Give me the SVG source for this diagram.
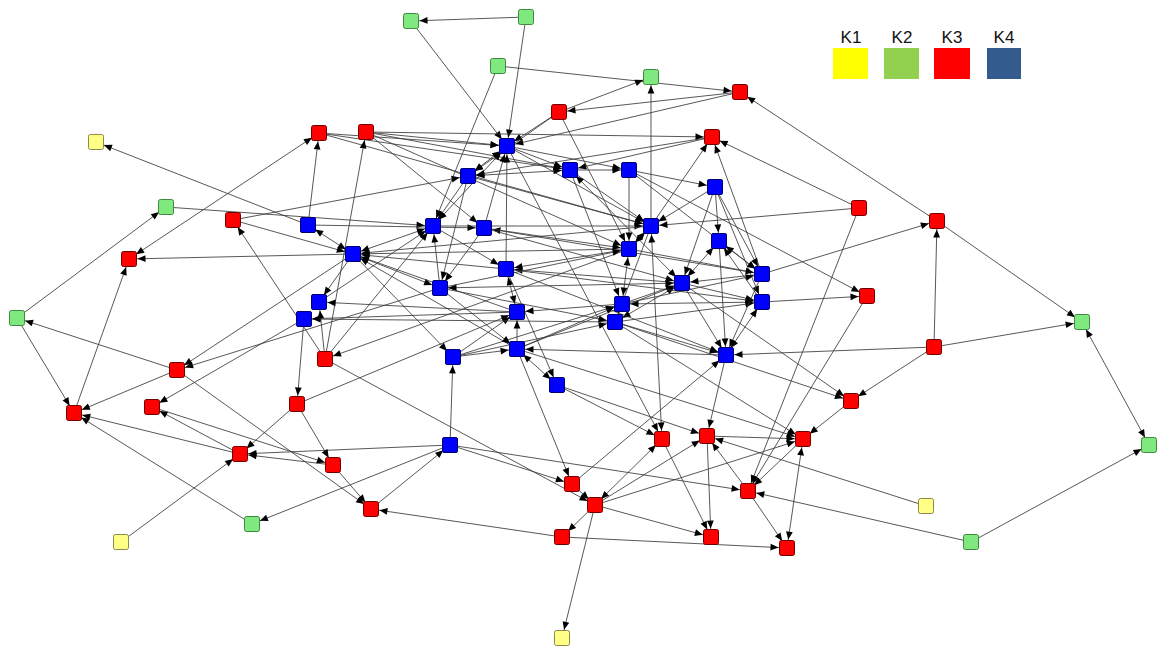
<svg xmlns="http://www.w3.org/2000/svg" width="1170" height="658" viewBox="0 0 1170 658">
<style>
.e{stroke:#3a3a3a;stroke-width:0.85;fill:none;marker-end:url(#a)}
.b{marker-start:url(#a)}
.n rect{width:15px;height:15px}
.g{fill:#7FE87F;stroke:#3F8A3F;stroke-width:1}
.y{fill:#FFFF85;stroke:#8A8A48;stroke-width:1}
.r{fill:#FF0000;stroke:#6E0000;stroke-width:1}
.u{fill:#0000FF;stroke:#00006E;stroke-width:1}
.lt{font-family:"Liberation Sans",Arial,sans-serif;font-size:17px;fill:#111;text-anchor:middle}
</style>
<defs>
<marker id="a" viewBox="0 0 20 10" refX="18.5" refY="5" markerWidth="20" markerHeight="10" markerUnits="userSpaceOnUse" orient="auto-start-reverse">
<path d="M2,1.6 L10,5 L2,8.4 z" fill="#000"/>
</marker>
</defs>
<rect width="1170" height="658" fill="#fff"/>
<g id="connectors">
<line class="e" x1="526" y1="17" x2="411" y2="21"/>
<line class="e" x1="411" y1="21" x2="507" y2="146"/>
<line class="e" x1="526" y1="17" x2="507" y2="146"/>
<line class="e" x1="498" y1="66" x2="433" y2="226"/>
<line class="e" x1="498" y1="66" x2="740" y2="92"/>
<line class="e" x1="651" y1="226" x2="651" y2="77"/>
<line class="e" x1="559" y1="112" x2="651" y2="77"/>
<line class="e" x1="740" y1="92" x2="559" y2="112"/>
<line class="e" x1="740" y1="92" x2="507" y2="146"/>
<line class="e" x1="559" y1="112" x2="507" y2="146"/>
<line class="e" x1="559" y1="112" x2="468" y2="176"/>
<line class="e" x1="559" y1="112" x2="629" y2="249"/>
<line class="e" x1="366" y1="132" x2="712" y2="137"/>
<line class="e" x1="366" y1="132" x2="507" y2="146"/>
<line class="e" x1="319" y1="133" x2="507" y2="146"/>
<line class="e" x1="319" y1="133" x2="570" y2="170"/>
<line class="e" x1="366" y1="132" x2="570" y2="170"/>
<line class="e" x1="366" y1="132" x2="484" y2="228"/>
<line class="e" x1="366" y1="132" x2="629" y2="249"/>
<line class="e" x1="319" y1="133" x2="651" y2="226"/>
<line class="e" x1="325" y1="359" x2="366" y2="132"/>
<line class="e" x1="308" y1="225" x2="319" y2="133"/>
<line class="e b" x1="129" y1="259" x2="319" y2="133"/>
<line class="e" x1="233" y1="220" x2="468" y2="176"/>
<line class="e" x1="233" y1="220" x2="353" y2="254"/>
<line class="e" x1="166" y1="207" x2="433" y2="226"/>
<line class="e" x1="17" y1="318" x2="166" y2="207"/>
<line class="e" x1="17" y1="318" x2="74" y2="413"/>
<line class="e" x1="177" y1="370" x2="17" y2="318"/>
<line class="e" x1="74" y1="413" x2="129" y2="259"/>
<line class="e" x1="177" y1="370" x2="74" y2="413"/>
<line class="e" x1="353" y1="254" x2="129" y2="259"/>
<line class="e" x1="353" y1="254" x2="177" y2="370"/>
<line class="e" x1="304" y1="319" x2="152" y2="407"/>
<line class="e" x1="304" y1="319" x2="297" y2="404"/>
<line class="e" x1="308" y1="225" x2="96" y2="142"/>
<line class="e b" x1="353" y1="254" x2="308" y2="225"/>
<line class="e b" x1="353" y1="254" x2="433" y2="226"/>
<line class="e" x1="353" y1="254" x2="319" y2="302"/>
<line class="e" x1="353" y1="254" x2="440" y2="288"/>
<line class="e" x1="252" y1="524" x2="74" y2="413"/>
<line class="e" x1="450" y1="445" x2="252" y2="524"/>
<line class="e" x1="240" y1="454" x2="74" y2="413"/>
<line class="e" x1="333" y1="465" x2="240" y2="454"/>
<line class="e" x1="450" y1="445" x2="240" y2="454"/>
<line class="e" x1="240" y1="454" x2="152" y2="407"/>
<line class="e" x1="152" y1="407" x2="333" y2="465"/>
<line class="e" x1="333" y1="465" x2="371" y2="509"/>
<line class="e" x1="297" y1="404" x2="333" y2="465"/>
<line class="e" x1="177" y1="370" x2="371" y2="509"/>
<line class="e" x1="371" y1="509" x2="450" y2="445"/>
<line class="e" x1="297" y1="404" x2="240" y2="454"/>
<line class="e" x1="121" y1="542" x2="240" y2="454"/>
<line class="e" x1="325" y1="359" x2="595" y2="505"/>
<line class="e" x1="629" y1="249" x2="325" y2="359"/>
<line class="e" x1="325" y1="359" x2="433" y2="226"/>
<line class="e" x1="325" y1="359" x2="233" y2="220"/>
<line class="e" x1="325" y1="359" x2="319" y2="302"/>
<line class="e" x1="562" y1="537" x2="371" y2="509"/>
<line class="e" x1="595" y1="505" x2="562" y2="537"/>
<line class="e" x1="595" y1="505" x2="562" y2="638"/>
<line class="e" x1="595" y1="505" x2="711" y2="537"/>
<line class="e b" x1="662" y1="439" x2="595" y2="505"/>
<line class="e" x1="595" y1="505" x2="707" y2="436"/>
<line class="e" x1="572" y1="484" x2="595" y2="505"/>
<line class="e" x1="450" y1="445" x2="572" y2="484"/>
<line class="e" x1="450" y1="445" x2="748" y2="491"/>
<line class="e" x1="572" y1="484" x2="726" y2="355"/>
<line class="e" x1="557" y1="385" x2="662" y2="439"/>
<line class="e" x1="557" y1="385" x2="707" y2="436"/>
<line class="e" x1="517" y1="349" x2="803" y2="439"/>
<line class="e b" x1="651" y1="226" x2="662" y2="439"/>
<line class="e" x1="662" y1="439" x2="711" y2="537"/>
<line class="e" x1="707" y1="436" x2="711" y2="537"/>
<line class="e" x1="562" y1="537" x2="787" y2="548"/>
<line class="e" x1="748" y1="491" x2="787" y2="548"/>
<line class="e" x1="748" y1="491" x2="707" y2="436"/>
<line class="e b" x1="803" y1="439" x2="787" y2="548"/>
<line class="e" x1="926" y1="506" x2="707" y2="436"/>
<line class="e" x1="971" y1="542" x2="748" y2="491"/>
<line class="e" x1="971" y1="542" x2="1149" y2="445"/>
<line class="e b" x1="1149" y1="445" x2="1082" y2="322"/>
<line class="e" x1="937" y1="221" x2="1082" y2="322"/>
<line class="e" x1="934" y1="347" x2="1082" y2="322"/>
<line class="e" x1="934" y1="347" x2="937" y2="221"/>
<line class="e" x1="934" y1="347" x2="851" y2="401"/>
<line class="e" x1="934" y1="347" x2="726" y2="355"/>
<line class="e" x1="851" y1="401" x2="803" y2="439"/>
<line class="e" x1="682" y1="283" x2="851" y2="401"/>
<line class="e" x1="615" y1="322" x2="851" y2="401"/>
<line class="e" x1="867" y1="296" x2="748" y2="491"/>
<line class="e" x1="859" y1="208" x2="748" y2="491"/>
<line class="e" x1="762" y1="302" x2="867" y2="296"/>
<line class="e" x1="629" y1="170" x2="867" y2="296"/>
<line class="e" x1="762" y1="274" x2="937" y2="221"/>
<line class="e" x1="937" y1="221" x2="740" y2="92"/>
<line class="e" x1="859" y1="208" x2="712" y2="137"/>
<line class="e" x1="859" y1="208" x2="651" y2="226"/>
<line class="e" x1="762" y1="274" x2="712" y2="137"/>
<line class="e" x1="651" y1="226" x2="712" y2="137"/>
<line class="e" x1="707" y1="436" x2="803" y2="439"/>
<line class="e" x1="595" y1="505" x2="803" y2="439"/>
<line class="e" x1="803" y1="439" x2="748" y2="491"/>
<line class="e" x1="615" y1="322" x2="803" y2="439"/>
<line class="e" x1="726" y1="355" x2="707" y2="436"/>
<line class="e" x1="517" y1="349" x2="572" y2="484"/>
<line class="e" x1="507" y1="146" x2="662" y2="439"/>
<line class="e" x1="450" y1="445" x2="453" y2="357"/>
<line class="e" x1="297" y1="404" x2="517" y2="312"/>
<line class="e" x1="440" y1="288" x2="177" y2="370"/>
<line class="e" x1="308" y1="225" x2="484" y2="228"/>
<line class="e" x1="507" y1="146" x2="570" y2="170"/>
<line class="e" x1="507" y1="146" x2="629" y2="170"/>
<line class="e b" x1="507" y1="146" x2="468" y2="176"/>
<line class="e b" x1="507" y1="146" x2="433" y2="226"/>
<line class="e" x1="507" y1="146" x2="651" y2="226"/>
<line class="e" x1="484" y1="228" x2="507" y2="146"/>
<line class="e" x1="506" y1="269" x2="507" y2="146"/>
<line class="e" x1="570" y1="170" x2="629" y2="170"/>
<line class="e" x1="570" y1="170" x2="651" y2="226"/>
<line class="e b" x1="570" y1="170" x2="682" y2="283"/>
<line class="e" x1="629" y1="170" x2="629" y2="249"/>
<line class="e" x1="629" y1="170" x2="762" y2="274"/>
<line class="e" x1="715" y1="187" x2="651" y2="226"/>
<line class="e" x1="715" y1="187" x2="719" y2="241"/>
<line class="e" x1="715" y1="187" x2="682" y2="283"/>
<line class="e" x1="715" y1="187" x2="762" y2="302"/>
<line class="e" x1="715" y1="187" x2="762" y2="274"/>
<line class="e b" x1="629" y1="249" x2="622" y2="304"/>
<line class="e b" x1="629" y1="249" x2="651" y2="226"/>
<line class="e b" x1="682" y1="283" x2="719" y2="241"/>
<line class="e" x1="719" y1="241" x2="726" y2="355"/>
<line class="e b" x1="719" y1="241" x2="762" y2="274"/>
<line class="e" x1="762" y1="302" x2="719" y2="241"/>
<line class="e b" x1="762" y1="302" x2="726" y2="355"/>
<line class="e" x1="762" y1="274" x2="682" y2="283"/>
<line class="e b" x1="622" y1="304" x2="762" y2="302"/>
<line class="e" x1="622" y1="304" x2="682" y2="283"/>
<line class="e" x1="682" y1="283" x2="726" y2="355"/>
<line class="e" x1="651" y1="226" x2="615" y2="322"/>
<line class="e" x1="468" y1="176" x2="433" y2="226"/>
<line class="e" x1="484" y1="228" x2="440" y2="288"/>
<line class="e" x1="440" y1="288" x2="433" y2="226"/>
<line class="e" x1="506" y1="269" x2="353" y2="254"/>
<line class="e" x1="517" y1="312" x2="353" y2="254"/>
<line class="e" x1="517" y1="349" x2="353" y2="254"/>
<line class="e" x1="517" y1="312" x2="304" y2="319"/>
<line class="e" x1="453" y1="357" x2="517" y2="312"/>
<line class="e" x1="453" y1="357" x2="517" y2="349"/>
<line class="e b" x1="506" y1="269" x2="517" y2="312"/>
<line class="e b" x1="570" y1="170" x2="468" y2="176"/>
<line class="e" x1="468" y1="176" x2="651" y2="226"/>
<line class="e" x1="629" y1="249" x2="506" y2="269"/>
<line class="e" x1="682" y1="283" x2="506" y2="269"/>
<line class="e" x1="433" y1="226" x2="506" y2="269"/>
<line class="e" x1="433" y1="226" x2="651" y2="226"/>
<line class="e" x1="762" y1="274" x2="484" y2="228"/>
<line class="e" x1="484" y1="228" x2="682" y2="283"/>
<line class="e b" x1="682" y1="283" x2="440" y2="288"/>
<line class="e" x1="622" y1="304" x2="517" y2="312"/>
<line class="e" x1="726" y1="355" x2="517" y2="349"/>
<line class="e b" x1="517" y1="349" x2="557" y2="385"/>
<line class="e" x1="506" y1="269" x2="557" y2="385"/>
<line class="e" x1="453" y1="357" x2="615" y2="322"/>
<line class="e" x1="453" y1="357" x2="622" y2="304"/>
<line class="e" x1="622" y1="304" x2="762" y2="274"/>
<line class="e" x1="615" y1="322" x2="762" y2="302"/>
<line class="e" x1="682" y1="283" x2="762" y2="302"/>
<line class="e" x1="762" y1="274" x2="726" y2="355"/>
<line class="e b" x1="682" y1="283" x2="615" y2="322"/>
<line class="e" x1="517" y1="349" x2="682" y2="283"/>
<line class="e" x1="506" y1="269" x2="726" y2="355"/>
<line class="e" x1="615" y1="322" x2="304" y2="319"/>
<line class="e" x1="517" y1="312" x2="319" y2="302"/>
<line class="e" x1="319" y1="302" x2="433" y2="226"/>
<line class="e" x1="468" y1="176" x2="440" y2="288"/>
<line class="e" x1="517" y1="349" x2="517" y2="312"/>
<line class="e" x1="440" y1="288" x2="517" y2="349"/>
<line class="e" x1="651" y1="226" x2="353" y2="254"/>
<line class="e" x1="629" y1="249" x2="353" y2="254"/>
<line class="e" x1="353" y1="254" x2="453" y2="357"/>
<line class="e" x1="484" y1="228" x2="629" y2="249"/>
<line class="e" x1="440" y1="288" x2="629" y2="249"/>
<line class="e" x1="517" y1="349" x2="622" y2="304"/>
<line class="e" x1="440" y1="288" x2="615" y2="322"/>
<line class="e" x1="615" y1="322" x2="726" y2="355"/>
<line class="e" x1="629" y1="249" x2="762" y2="274"/>
<line class="e" x1="570" y1="170" x2="622" y2="304"/>
<line class="e" x1="506" y1="269" x2="762" y2="302"/>
<line class="e" x1="629" y1="170" x2="715" y2="187"/>
<line class="e" x1="712" y1="137" x2="570" y2="170"/>
<line class="e" x1="712" y1="137" x2="468" y2="176"/>
</g>
<g id="G1" class="n"><rect class="g" x="403.5" y="13.5" rx="2"/></g>
<g id="G2" class="n"><rect class="g" x="518.5" y="9.5" rx="2"/></g>
<g id="G3" class="n"><rect class="g" x="490.5" y="58.5" rx="2"/></g>
<g id="G4" class="n"><rect class="g" x="643.5" y="69.5" rx="2"/></g>
<g id="G5" class="n"><rect class="g" x="158.5" y="199.5" rx="2"/></g>
<g id="G6" class="n"><rect class="g" x="9.5" y="310.5" rx="2"/></g>
<g id="G7" class="n"><rect class="g" x="1074.5" y="314.5" rx="2"/></g>
<g id="G8" class="n"><rect class="g" x="1141.5" y="437.5" rx="2"/></g>
<g id="G9" class="n"><rect class="g" x="244.5" y="516.5" rx="2"/></g>
<g id="G10" class="n"><rect class="g" x="963.5" y="534.5" rx="2"/></g>
<g id="Y1" class="n"><rect class="y" x="88.5" y="134.5" rx="2"/></g>
<g id="Y2" class="n"><rect class="y" x="113.5" y="534.5" rx="2"/></g>
<g id="Y3" class="n"><rect class="y" x="918.5" y="498.5" rx="2"/></g>
<g id="Y4" class="n"><rect class="y" x="554.5" y="630.5" rx="2"/></g>
<g id="R1" class="n"><rect class="r" x="732.5" y="84.5" rx="2"/></g>
<g id="R2" class="n"><rect class="r" x="551.5" y="104.5" rx="2"/></g>
<g id="R3" class="n"><rect class="r" x="311.5" y="125.5" rx="2"/></g>
<g id="R4" class="n"><rect class="r" x="358.5" y="124.5" rx="2"/></g>
<g id="R5" class="n"><rect class="r" x="704.5" y="129.5" rx="2"/></g>
<g id="R6" class="n"><rect class="r" x="851.5" y="200.5" rx="2"/></g>
<g id="R7" class="n"><rect class="r" x="929.5" y="213.5" rx="2"/></g>
<g id="R8" class="n"><rect class="r" x="225.5" y="212.5" rx="2"/></g>
<g id="R9" class="n"><rect class="r" x="121.5" y="251.5" rx="2"/></g>
<g id="R10" class="n"><rect class="r" x="859.5" y="288.5" rx="2"/></g>
<g id="R11" class="n"><rect class="r" x="926.5" y="339.5" rx="2"/></g>
<g id="R12" class="n"><rect class="r" x="317.5" y="351.5" rx="2"/></g>
<g id="R13" class="n"><rect class="r" x="169.5" y="362.5" rx="2"/></g>
<g id="R14" class="n"><rect class="r" x="289.5" y="396.5" rx="2"/></g>
<g id="R15" class="n"><rect class="r" x="144.5" y="399.5" rx="2"/></g>
<g id="R16" class="n"><rect class="r" x="66.5" y="405.5" rx="2"/></g>
<g id="R17" class="n"><rect class="r" x="843.5" y="393.5" rx="2"/></g>
<g id="R18" class="n"><rect class="r" x="654.5" y="431.5" rx="2"/></g>
<g id="R19" class="n"><rect class="r" x="699.5" y="428.5" rx="2"/></g>
<g id="R20" class="n"><rect class="r" x="795.5" y="431.5" rx="2"/></g>
<g id="R21" class="n"><rect class="r" x="232.5" y="446.5" rx="2"/></g>
<g id="R22" class="n"><rect class="r" x="325.5" y="457.5" rx="2"/></g>
<g id="R23" class="n"><rect class="r" x="564.5" y="476.5" rx="2"/></g>
<g id="R24" class="n"><rect class="r" x="740.5" y="483.5" rx="2"/></g>
<g id="R25" class="n"><rect class="r" x="587.5" y="497.5" rx="2"/></g>
<g id="R26" class="n"><rect class="r" x="363.5" y="501.5" rx="2"/></g>
<g id="R27" class="n"><rect class="r" x="554.5" y="529.5" rx="2"/></g>
<g id="R28" class="n"><rect class="r" x="703.5" y="529.5" rx="2"/></g>
<g id="R29" class="n"><rect class="r" x="779.5" y="540.5" rx="2"/></g>
<g id="B1" class="n"><rect class="u" x="499.5" y="138.5" rx="1.5"/></g>
<g id="B2" class="n"><rect class="u" x="562.5" y="162.5" rx="1.5"/></g>
<g id="B3" class="n"><rect class="u" x="621.5" y="162.5" rx="1.5"/></g>
<g id="B4" class="n"><rect class="u" x="460.5" y="168.5" rx="1.5"/></g>
<g id="B5" class="n"><rect class="u" x="707.5" y="179.5" rx="1.5"/></g>
<g id="B6" class="n"><rect class="u" x="300.5" y="217.5" rx="1.5"/></g>
<g id="B7" class="n"><rect class="u" x="425.5" y="218.5" rx="1.5"/></g>
<g id="B8" class="n"><rect class="u" x="476.5" y="220.5" rx="1.5"/></g>
<g id="B9" class="n"><rect class="u" x="643.5" y="218.5" rx="1.5"/></g>
<g id="B10" class="n"><rect class="u" x="345.5" y="246.5" rx="1.5"/></g>
<g id="B11" class="n"><rect class="u" x="711.5" y="233.5" rx="1.5"/></g>
<g id="B12" class="n"><rect class="u" x="621.5" y="241.5" rx="1.5"/></g>
<g id="B13" class="n"><rect class="u" x="498.5" y="261.5" rx="1.5"/></g>
<g id="B14" class="n"><rect class="u" x="754.5" y="266.5" rx="1.5"/></g>
<g id="B15" class="n"><rect class="u" x="674.5" y="275.5" rx="1.5"/></g>
<g id="B16" class="n"><rect class="u" x="432.5" y="280.5" rx="1.5"/></g>
<g id="B17" class="n"><rect class="u" x="311.5" y="294.5" rx="1.5"/></g>
<g id="B18" class="n"><rect class="u" x="614.5" y="296.5" rx="1.5"/></g>
<g id="B19" class="n"><rect class="u" x="754.5" y="294.5" rx="1.5"/></g>
<g id="B20" class="n"><rect class="u" x="509.5" y="304.5" rx="1.5"/></g>
<g id="B21" class="n"><rect class="u" x="296.5" y="311.5" rx="1.5"/></g>
<g id="B22" class="n"><rect class="u" x="607.5" y="314.5" rx="1.5"/></g>
<g id="B23" class="n"><rect class="u" x="509.5" y="341.5" rx="1.5"/></g>
<g id="B24" class="n"><rect class="u" x="445.5" y="349.5" rx="1.5"/></g>
<g id="B25" class="n"><rect class="u" x="718.5" y="347.5" rx="1.5"/></g>
<g id="B26" class="n"><rect class="u" x="549.5" y="377.5" rx="1.5"/></g>
<g id="B27" class="n"><rect class="u" x="442.5" y="437.5" rx="1.5"/></g>
<g id="legend">
<text class="lt" x="851" y="43">K1</text>
<text class="lt" x="902" y="43">K2</text>
<text class="lt" x="952" y="43">K3</text>
<text class="lt" x="1004" y="43">K4</text>
<rect x="833" y="48" width="35" height="31" fill="#FFFF00"/>
<rect x="884" y="48" width="35" height="31" fill="#92D050"/>
<rect x="934" y="48" width="36" height="31" fill="#FF0000"/>
<rect x="987" y="48" width="34" height="31" fill="#335B8E"/>
</g>
</svg>
